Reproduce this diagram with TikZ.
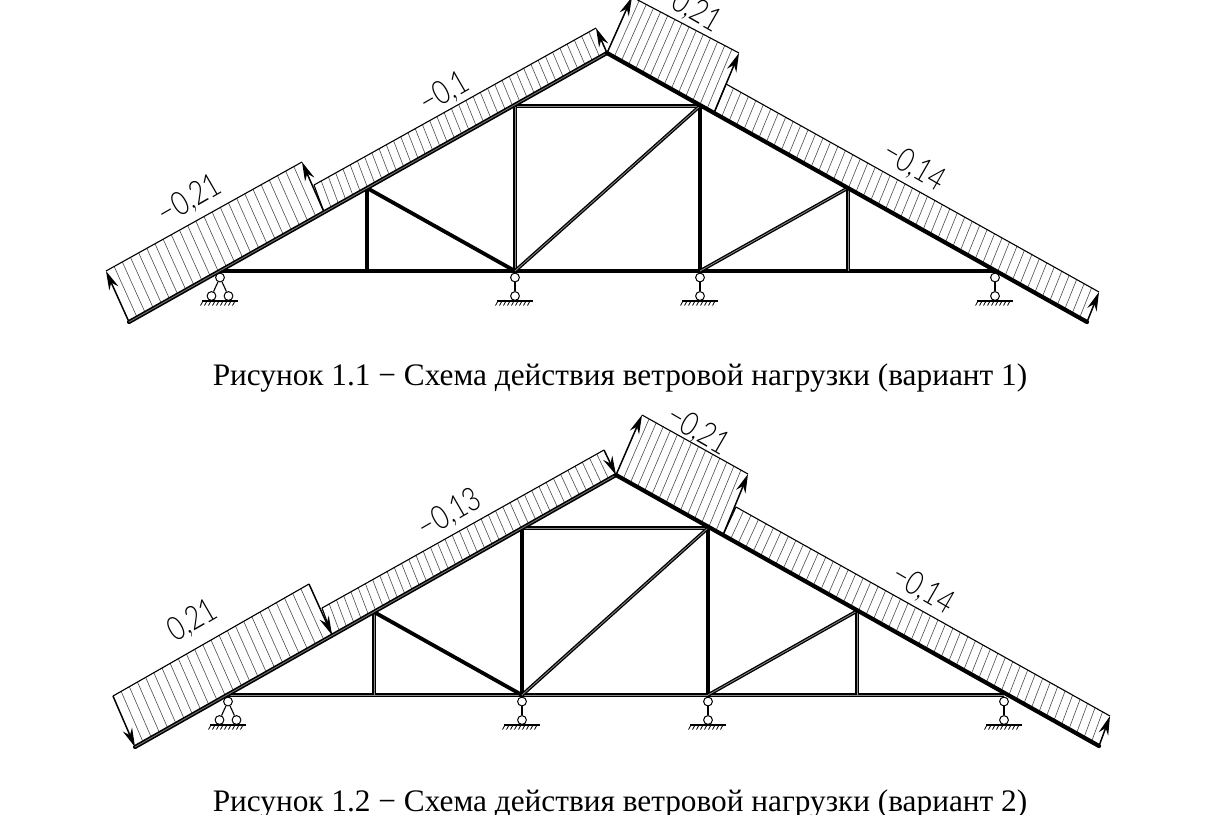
\documentclass[tikz,border=0pt]{standalone}
\usepackage{fontspec}
\setmainfont{Liberation Serif}
\newfontfamily\cadfont{Lato Light}
\usetikzlibrary{calc,arrows.meta}
\definecolor{hatchgrey}{gray}{0.3}
\tikzset{
  x=1pt,y=-1pt,
  leftchord/.style={line width=1.6pt,double=black!55,double distance=.9pt,black,line cap=round},
  rightchord/.style={line width=4.2pt,black,line cap=round},
  solidweb/.style={line width=3.4pt,black},
  thickweb/.style={line width=3.8pt,black},
  doubleweb/.style={line width=1.35pt,double=black!45,double distance=.8pt,black},
  tickline/.style={line width=.6pt,hatchgrey},
  outline/.style={line width=1.1pt,black},
  uparrow/.style={line width=1.5pt,-{Stealth[length=19pt,width=10pt]}},
  downarrow/.style={line width=1.5pt,{Stealth[length=19pt,width=10pt]}-},
  hinge/.style={circle,draw=black,line width=1pt,fill=white,inner sep=0pt,minimum size=8.8pt},
  groundline/.style={line width=1.4pt,black},
  loadlabel/.style={font=\cadfont\fontsize{33}{33}\selectfont,inner sep=0pt},
  captiontext/.style={font=\fontsize{31.3}{34}\selectfont,inner sep=0pt}
}
\newcommand{\loadtext}[1]{\scalebox{.8}[1]{#1}}
\newcommand{\loadstrip}[5]{%
  \foreach \k in {1,...,#5}{
    \pgfmathsetmacro{\tt}{\k/(#5+1)}
    \draw[tickline] ($(#1)!\tt!(#2)$) -- ($(#3)!\tt!(#4)$);
  }
  \draw[outline] (#3) -- (#4);
}
\newcommand{\groundmark}[1]{%
  \draw[groundline] ($(#1)+(-18,0)$) -- ($(#1)+(18,0)$);
  \foreach \d in {-17,-13,...,17}{
    \draw[line width=.8pt] ($(#1)+(\d,0)$) -- ($(#1)+(\d-2.5,4.5)$);
  }
}
\newcommand{\pendulum}[2]{%
  \node[hinge] (#1u) at ($(#2)+(0,6.5)$) {};
  \node[hinge] (#1l) at ($(#2)+(0,25)$) {};
  \draw[line width=1.1pt] (#1u) -- (#1l);
  \coordinate (#1g) at ($(#2)+(0,30)$);
  \groundmark{#1g}
}
% #1 side-arrow style, #2 bottom chord, #3 first vertical, #4 second vertical
\newcommand{\trussdraw}[4]{%
  \loadstrip{El}{Kl}{Pl}{Ql}{23}
  \loadstrip{Kl}{T}{Rl}{Sl}{38}
  \loadstrip{T}{Kr}{Pm}{Qm}{14}
  \loadstrip{Kr}{Er}{Rr}{Sr}{49}
  \draw[outline] (Kl) -- (Rl);
  \draw[outline] (Kr) -- (Rr);
  \draw[#1] (El) -- (Pl);
  \draw[#1] (Kl) -- (Ql);
  \draw[#1] (T) -- (Sl);
  \draw[uparrow] (T) -- (Pm);
  \draw[uparrow] (Kr) -- (Qm);
  \draw[uparrow] (Er) -- (Sr);
  \draw[#2] (A) -- (F);
  \draw[doubleweb] (C) -- (D);
  \draw[#3] (B) -- (Bb);
  \draw[#4] (C) -- (Cb);
  \draw[solidweb] (D) -- (Db);
  \draw[doubleweb] (E) -- (Eb);
  \draw[thickweb] (B) -- (Cb);
  \draw[doubleweb] (Cb) -- (D);
  \draw[doubleweb] (Db) -- (E);
  \draw[leftchord] (El) -- (T);
  \draw[rightchord] (T) -- (Er);
  \pendulum{sb}{Cb}
  \pendulum{sc}{Db}
  \pendulum{sd}{F}
  \node[hinge] (sau) at ($(A)+(0,6.5)$) {};
  \node[hinge] (sal) at ($(A)+(-8.5,25)$) {};
  \node[hinge] (sar) at ($(A)+(8.5,25)$) {};
  \draw[line width=1.1pt] (sal) -- (sau) -- (sar);
  \coordinate (sag) at ($(A)+(0,30)$);
  \groundmark{sag}
}
\begin{document}
\begin{tikzpicture}
\useasboundingbox (0,0) rectangle (1230,814);
\fill[white] (0,0) rectangle (1230,814);
\clip (0,0) rectangle (1230,814);
% ---------- Figure 1.1
\coordinate (El) at (129,322); \coordinate (T) at (607,53); \coordinate (Er) at (1087,322);
\coordinate (A) at (220,271); \coordinate (B) at (367,188); \coordinate (C) at (515,106);
\coordinate (D) at (700,106); \coordinate (E) at (848,188); \coordinate (F) at (995,271);
\coordinate (Bb) at (367,271); \coordinate (Cb) at (515,271); \coordinate (Db) at (700,271); \coordinate (Eb) at (848,271);
\coordinate (Pl) at (106,271); \coordinate (Ql) at (302,162); \coordinate (Kl) at (324,212);
\coordinate (Rl) at (314,185); \coordinate (Sl) at (596,28);
\coordinate (Pm) at (632,-3); \coordinate (Qm) at (739,53); \coordinate (Kr) at (714,113);
\coordinate (Rr) at (726,84); \coordinate (Sr) at (1099,292);
\trussdraw{uparrow}{thickweb}{solidweb}{doubleweb}
\node[loadlabel,rotate=30] (l1a) at (190,200) {\loadtext{−0,21}};
\node[loadlabel,rotate=30] (l1b) at (445,93) {\loadtext{−0,1}};
\node[loadlabel,rotate=-30] (l1c) at (690,8) {\loadtext{−0,21}};
\node[loadlabel,rotate=-30] (l1d) at (914,167) {\loadtext{−0,14}};
\node[captiontext] (c1) at (620,378) {Рисунок 1.1 − Схема действия ветровой нагрузки (вариант 1)};
% ---------- Figure 1.2
\coordinate (El) at (135,747); \coordinate (T) at (616,475); \coordinate (Er) at (1099,746);
\coordinate (A) at (228,695); \coordinate (B) at (374,612); \coordinate (C) at (522,528);
\coordinate (D) at (708,528); \coordinate (E) at (857,611); \coordinate (F) at (1004,695);
\coordinate (Bb) at (374,695); \coordinate (Cb) at (522,695); \coordinate (Db) at (708,695); \coordinate (Eb) at (857,695);
\coordinate (Pl) at (113,696); \coordinate (Ql) at (309,584); \coordinate (Kl) at (332,635);
\coordinate (Rl) at (322,608); \coordinate (Sl) at (604,450);
\coordinate (Pm) at (642,415); \coordinate (Qm) at (748,474); \coordinate (Kr) at (723,535);
\coordinate (Rr) at (736,507); \coordinate (Sr) at (1110,716);
\trussdraw{downarrow}{doubleweb}{doubleweb}{solidweb}
\node[loadlabel,rotate=30] (l2a) at (193,621) {\loadtext{0,21}};
\node[loadlabel,rotate=30] (l2b) at (450,514) {\loadtext{−0,13}};
\node[loadlabel,rotate=-30] (l2c) at (698,431) {\loadtext{−0,21}};
\node[loadlabel,rotate=-30] (l2d) at (923,590) {\loadtext{−0,14}};
\node[captiontext] (c2) at (620,804) {Рисунок 1.2 − Схема действия ветровой нагрузки (вариант 2)};
\end{tikzpicture}
\end{document}
